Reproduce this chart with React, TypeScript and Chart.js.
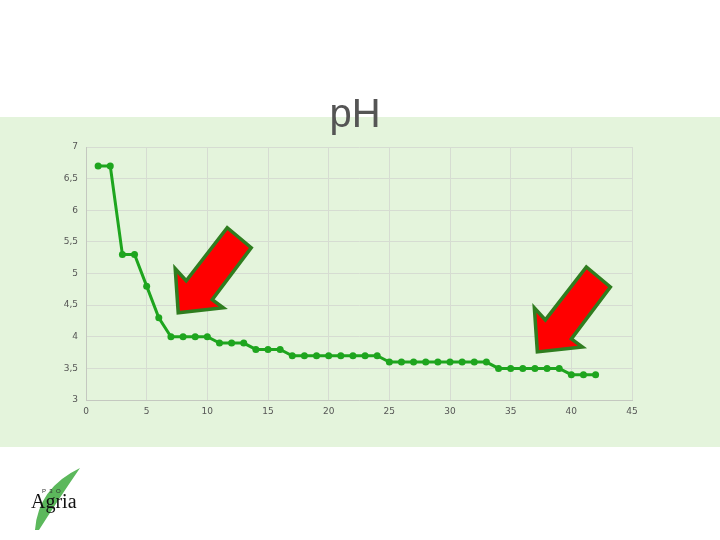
import React, { useEffect, useRef } from "react";
import { Chart, registerables } from "chart.js";

Chart.register(...registerables);

const xValues = [1, 2, 3, 4, 5, 6, 7, 8, 9, 10, 11, 12, 13, 14, 15, 16, 17, 18, 19, 20, 21, 22, 23, 24, 25, 26, 27, 28, 29, 30, 31, 32, 33, 34, 35, 36, 37, 38, 39, 40, 41, 42];
const phValues = [6.7, 6.7, 5.3, 5.3, 4.8, 4.3, 4.0, 4.0, 4.0, 4.0, 3.9, 3.9, 3.9, 3.8, 3.8, 3.8, 3.7, 3.7, 3.7, 3.7, 3.7, 3.7, 3.7, 3.7, 3.6, 3.6, 3.6, 3.6, 3.6, 3.6, 3.6, 3.6, 3.6, 3.5, 3.5, 3.5, 3.5, 3.5, 3.5, 3.4, 3.4, 3.4];
const arrowTipX = [7.6, 37.2];
const arrowTipY = [4.38, 3.76];
const titleText = "pH";

// arrow outline relative to tip (pixels)
const ARROW_SHAPE: [number, number][] = [
  [0, 0], [-3, -44], [8, -32], [49, -85], [73, -65], [34, -13], [45, -5],
];

const decorPlugin = {
  id: "decor",
  beforeDraw(chart: any) {
    const ctx = chart.ctx;
    ctx.save();
    ctx.fillStyle = "#ffffff";
    ctx.fillRect(0, 0, chart.width, chart.height);
    ctx.fillStyle = "#e4f4dc";
    ctx.fillRect(0, 117, chart.width, 330);
    // title
    ctx.fillStyle = "#555555";
    ctx.font = "40px 'Liberation Sans', Arial, sans-serif";
    ctx.textAlign = "center";
    ctx.textBaseline = "alphabetic";
    ctx.fillText(titleText, 355, 127);
    // logo leaf
    ctx.fillStyle = "#5cb85c";
    ctx.beginPath();
    ctx.moveTo(35, 530);
    ctx.quadraticCurveTo(38, 488, 80, 468);
    ctx.quadraticCurveTo(58, 500, 39, 530);
    ctx.closePath();
    ctx.fill();
    ctx.fillStyle = "#111111";
    ctx.font = "20px 'Liberation Serif', 'DejaVu Serif', serif";
    ctx.textAlign = "left";
    ctx.fillText("Agria", 31, 508);
    ctx.font = "6px 'Liberation Sans', sans-serif";
    ctx.fillStyle = "#333";
    ctx.fillText("P  3  O", 42, 493);
    ctx.restore();
  },
  afterDatasetsDraw(chart: any) {
    const ctx = chart.ctx;
    const xs = chart.scales.x;
    const ys = chart.scales.y;
    ctx.save();
    for (let i = 0; i < arrowTipX.length; i++) {
      const tx = xs.getPixelForValue(arrowTipX[i]);
      const ty = ys.getPixelForValue(arrowTipY[i]);
      ctx.beginPath();
      ARROW_SHAPE.forEach(([dx, dy], j) => {
        if (j === 0) ctx.moveTo(tx + dx, ty + dy);
        else ctx.lineTo(tx + dx, ty + dy);
      });
      ctx.closePath();
      ctx.fillStyle = "#ff0000";
      ctx.fill();
      ctx.lineWidth = 3.5;
      ctx.lineJoin = "miter";
      ctx.strokeStyle = "#2f7d1f";
      ctx.stroke();
    }
    ctx.restore();
  },
};

export default function App() {
  const ref = useRef<HTMLCanvasElement>(null);
  useEffect(() => {
    if (!ref.current) return;
    const chart = new Chart(ref.current, {
      type: "line",
      data: {
        datasets: [
          {
            data: xValues.map((x, i) => ({ x, y: phValues[i] })),
            borderColor: "#1ea51e",
            backgroundColor: "#1ea51e",
            borderWidth: 3,
            pointRadius: 3.5,
            pointHoverRadius: 3.5,
            pointBorderWidth: 0,
            tension: 0,
          },
        ],
      },
      options: {
        responsive: false,
        animation: false,
        layout: { padding: { left: 0, right: 88, top: 147, bottom: 100 } },
        plugins: { legend: { display: false }, title: { display: false }, tooltip: { enabled: false } },
        scales: {
          x: {
            type: "linear",
            min: 0,
            max: 45,
            ticks: {
              stepSize: 5,
              color: "#555",
              font: { family: "'DejaVu Sans', sans-serif", size: 9 },
              padding: 6,
            },
            grid: { color: "#d6dcd2", drawTicks: false },
            border: { color: "#c4c8c0" },
            afterFit(scale: any) { scale.height = 40; },
          },
          y: {
            min: 3,
            max: 7,
            ticks: {
              stepSize: 0.5,
              color: "#555",
              font: { family: "'DejaVu Sans', sans-serif", size: 9 },
              padding: 8,
              callback: (v: any) => String(v).replace(".", ","),
            },
            grid: { color: "#d6dcd2", drawTicks: false },
            border: { color: "#c4c8c0" },
            afterFit(scale: any) { scale.width = 86; },
          },
        },
      },
      plugins: [decorPlugin],
    });
    return () => chart.destroy();
  }, []);
  return (
    <div style={{ position: "fixed", left: 0, top: 0, width: 720, height: 540 }}>
      <canvas ref={ref} width={720} height={540} style={{ display: "block" }} />
    </div>
  );
}
